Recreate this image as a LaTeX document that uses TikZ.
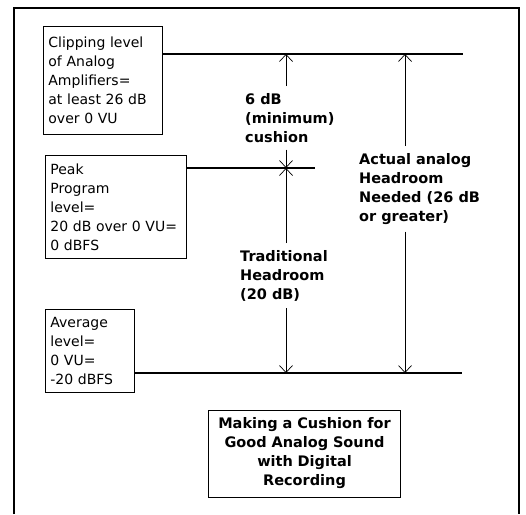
\documentclass[tikz,border=0pt]{standalone}
\usepackage{fontspec}
\setmainfont{DejaVu Sans}
\usetikzlibrary{arrows.meta,positioning}

\begin{document}
\begin{tikzpicture}[x=1pt,y=-1pt,
    levelbox/.style={draw,line width=0.8pt,anchor=north west,align=left,inner xsep=5pt,inner ysep=5pt,font=\fontsize{14}{19}\selectfont},
    tag/.style={anchor=north west,align=left,inner xsep=0pt,inner ysep=7pt,font=\bfseries\fontsize{14.5}{19}\selectfont},
    level/.style={line width=1.6pt},
    gap/.style={line width=0.7pt,-{Straight Barb[length=7pt,width=13pt]}}]
  \useasboundingbox (0,0) rectangle (526,514);
  \draw[line width=1.2pt] (14,514) -- (14,8) -- (519,8) -- (519,514);

  % the three levels
  \node[levelbox,text width=109pt,minimum height=108pt] (clip) at (43,26) {Clipping level\\of Analog\\Amplifiers=\\at least 26 dB\\over 0 VU};
  \node[levelbox,text width=131pt,minimum height=103pt] (peak) at (45,155) {Peak\\Program\\level=\\20 dB over 0 VU=\\0 dBFS};
  \node[levelbox,text width=79pt,minimum height=83pt] (avg) at (45,309) {Average\\level=\\0 VU=\\-20 dBFS};

  \coordinate (clipEnd) at (463,54);
  \coordinate (peakEnd) at (315,168);
  \coordinate (avgEnd) at (462,373);
  \draw[level] (clip.east |- clipEnd) -- (clipEnd);
  \draw[level] (peak.east |- peakEnd) -- (peakEnd);
  \draw[level] (avg.east |- avgEnd) -- (avgEnd);

  % headroom labels and arrows
  \coordinate (colA) at (286,0);
  \coordinate (colB) at (405,0);
  \node[tag] (cushion) at (245,86) {6 dB\\(minimum)\\cushion};
  \node[tag] (trad) at (240,243) {Traditional\\Headroom\\(20 dB)};
  \node[tag] (actual) at (359,146) {Actual analog\\Headroom\\Needed (26 dB\\or greater)};

  \draw[gap] (cushion.north -| colA) -- (colA |- clipEnd);
  \draw[gap] (cushion.south -| colA) -- (colA |- peakEnd);
  \draw[gap] (trad.north -| colA) -- (colA |- peakEnd);
  \draw[gap] (trad.south -| colA) -- (colA |- avgEnd);
  \draw[gap] (actual.north -| colB) -- (colB |- clipEnd);
  \draw[gap] (actual.south -| colB) -- (colB |- avgEnd);

  \node[draw,line width=0.8pt,align=center,text width=185pt,minimum height=87pt,
    font=\bfseries\fontsize{14.5}{19}\selectfont] (title) at (304.5,453.5)
    {Making a Cushion for\\Good Analog Sound\\with Digital\\Recording};
\end{tikzpicture}
\end{document}
